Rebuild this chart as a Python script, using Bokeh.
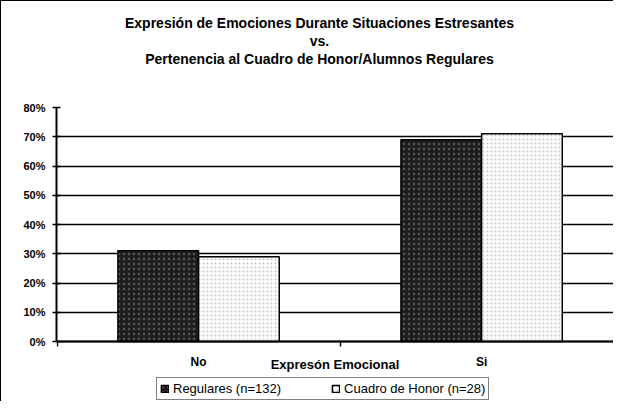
from bokeh.plotting import figure
from bokeh.models import (Range1d, FixedTicker, PrintfTickFormatter, Legend,
                          LegendItem, Title, ColumnDataSource)
from bokeh.transform import dodge
from bokeh.embed import file_html
from bokeh.resources import INLINE

# ---- data ----
categories = ["No", "Si"]
regulares = [31, 69]          # Regulares (n=132), %
cuadro_honor = [29, 71]       # Cuadro de Honor (n=28), %
y_ticks = [0, 10, 20, 30, 40, 50, 60, 70, 80]
series_names = ["Regulares (n=132)", "Cuadro de Honor (n=28)"]
title_lines = ["Expresión de Emociones Durante Situaciones Estresantes",
               "vs.",
               "Pertenencia al Cuadro de Honor/Alumnos Regulares"]
x_title = "Expresón Emocional"

FONT = "Liberation Sans"
TITLE_PX = 14

# Arial/Liberation Sans Bold advance widths (1/1000 em), used only to centre
# the title lines on the reference's title centre.
_BOLD_W = {" ": 278, ".": 278, "/": 278, "a": 556, "b": 611, "c": 556, "d": 611,
           "e": 556, "f": 333, "g": 611, "h": 611, "i": 278, "l": 278, "m": 889,
           "n": 611, "o": 611, "p": 611, "r": 389, "s": 556, "t": 333, "u": 611,
           "v": 556, "x": 556, "A": 722, "C": 722, "D": 722, "E": 667, "H": 722,
           "P": 667, "R": 722, "S": 667, "ó": 611}


def text_width(s, px):
    return sum(_BOLD_W.get(ch, 556) for ch in s) * px / 1000.0


source = ColumnDataSource(dict(x=list(range(len(categories))),
                               cat=categories, reg=regulares, hon=cuadro_honor))

# frame reaches the bottom of the canvas so that the category labels, the
# axis title and the legend all sit inside it (below the value 0)
y_top = y_ticks[-1]
top_border = 106
px_per_unit = 234 / y_top
frame_h = 400 - top_border
p = figure(frame_width=557, frame_height=frame_h,
           x_range=Range1d(-0.502, 1.466),
           y_range=Range1d(y_top - frame_h / px_per_unit, y_top),
           output_backend="svg", toolbar_location=None,
           min_border_left=55, min_border_right=0,
           min_border_top=top_border, min_border_bottom=0)
p.title = None
p.outline_line_color = None
p.background_fill_color = "white"
p.border_fill_color = "white"
p.styles = {"border-left": "1.5px solid black", "border-top": "1.5px solid black"}

bw = 0.285
r1 = p.vbar(x=dodge("x", -bw / 2, range=p.x_range), top="reg", width=bw,
            source=source, fill_color="#1e1e1e", line_color="black",
            line_width=1.5, hatch_pattern="dot", hatch_color="#9a9a9a",
            hatch_scale=5, hatch_alpha=0.45)
r2 = p.vbar(x=dodge("x", bw / 2, range=p.x_range), top="hon", width=bw,
            source=source, fill_color="white", line_color="black",
            line_width=1.5, hatch_pattern="dot", hatch_color="#a0a0a0",
            hatch_scale=4, hatch_alpha=0.6)

# grid
p.xgrid.visible = False
p.ygrid.ticker = FixedTicker(ticks=y_ticks)
p.ygrid.grid_line_color = "black"
p.ygrid.grid_line_width = 1.5

# y axis
ya = p.yaxis[0]
ya.ticker = FixedTicker(ticks=y_ticks)
ya.formatter = PrintfTickFormatter(format="%d%%")
ya.bounds = (y_ticks[0], y_ticks[-1])
ya.axis_line_width = 2
ya.major_tick_in = 4
ya.major_tick_out = 4
ya.major_tick_line_width = 1.5
ya.minor_tick_line_color = None
ya.major_label_standoff = 7
ya.major_label_text_font = FONT
ya.major_label_text_font_size = "11px"
ya.major_label_text_font_style = "bold"
ya.major_label_text_color = "black"

# x axis drawn at value 0
xa = p.xaxis[0]
xa.fixed_location = 0
xa.ticker = FixedTicker(ticks=list(range(len(categories))),
                        minor_ticks=[i - 0.5 for i in range(len(categories) + 1)])
xa.major_label_overrides = {i: c for i, c in enumerate(categories)}
xa.axis_line_width = 2
xa.major_tick_line_color = None
xa.major_tick_in = 0
xa.major_tick_out = 0
xa.minor_tick_in = 0
xa.minor_tick_out = 5
xa.minor_tick_line_width = 1.5
xa.major_label_standoff = 8
xa.major_label_text_font = FONT
xa.major_label_text_font_size = "12px"
xa.major_label_text_font_style = "bold"
xa.major_label_text_color = "black"
xa.axis_label = x_title
xa.axis_label_text_font = FONT
xa.axis_label_text_font_size = "13px"
xa.axis_label_text_font_style = "bold"
xa.axis_label_text_color = "black"
xa.axis_label_standoff = -15

# legend inside the (extended) frame, under the axis
legend = Legend(items=[LegendItem(label=series_names[0], renderers=[r1]),
                       LegendItem(label=series_names[1], renderers=[r2])],
                orientation="horizontal", location=(100, 1),
                border_line_color="black", border_line_width=1.5,
                background_fill_color="white", background_fill_alpha=1,
                label_text_font=FONT, label_text_font_size="13px",
                label_text_color="black",
                glyph_width=9, glyph_height=9, label_height=13,
                label_standoff=4, padding=3, spacing=50, margin=0)
p.add_layout(legend)

# title: spacer nearest the frame, then the three lines stacked outward
title_centre = 263  # px from the frame's left edge
p.add_layout(Title(text=" ", text_font_size=f"{TITLE_PX}px", standoff=23), "above")
for line in reversed(title_lines):
    p.add_layout(Title(text=line, align="left",
                       offset=title_centre - text_width(line, TITLE_PX) / 2,
                       text_font=FONT, text_font_size=f"{TITLE_PX}px",
                       text_font_style="bold", text_color="black",
                       standoff=0), "above")

open("out.html", "w").write(file_html(p, INLINE))
